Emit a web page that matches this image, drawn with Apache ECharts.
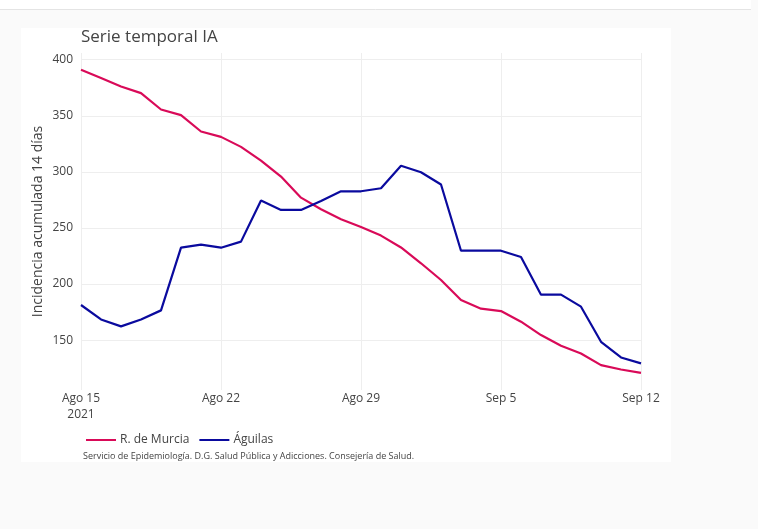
<!DOCTYPE html>
<html>
<head>
<meta charset="utf-8">
<script src="https://cdn.jsdelivr.net/npm/echarts@6/dist/echarts.min.js"></script>
<style>
html,body{margin:0;padding:0;background:#fafafa;}
#chart{width:758px;height:529px;}
</style>
</head>
<body>
<div id="chart"></div>
<script>
const dates = ['2021-08-15','2021-08-16','2021-08-17','2021-08-18','2021-08-19','2021-08-20','2021-08-21',
  '2021-08-22','2021-08-23','2021-08-24','2021-08-25','2021-08-26','2021-08-27','2021-08-28',
  '2021-08-29','2021-08-30','2021-08-31','2021-09-01','2021-09-02','2021-09-03','2021-09-04',
  '2021-09-05','2021-09-06','2021-09-07','2021-09-08','2021-09-09','2021-09-10','2021-09-11','2021-09-12'];
const murcia = [391.1,383.7,376.2,370.2,355.6,350.6,336.0,331.2,322.3,310.1,295.8,277.0,266.7,257.7,
  250.9,243.2,232.6,218.5,203.6,185.7,178.0,175.9,166.4,154.5,145.0,138.1,127.7,123.8,120.8];
const aguilas = [181.3,168.4,162.2,168.4,176.5,232.4,235.1,232.4,237.8,274.4,266.1,266.1,274.1,282.7,
  282.7,285.4,305.4,299.7,288.7,229.7,229.7,229.7,224.1,190.5,190.5,179.8,148.5,134.5,129.2];
const yTicks = [150,200,250,300,350,400];
const monthNames = {'08':'Ago','09':'Sep'};
const seriesNames = ['R. de Murcia','Águilas'];
const titleText = 'Serie temporal IA';
const yName = 'Incidencia acumulada 14 días';
const sourceText = 'Servicio de Epidemiología. D.G. Salud Pública y Adicciones. Consejería de Salud.';

const FONT = '"Open Sans", "Noto Sans", sans-serif';
const chart = echarts.init(document.getElementById('chart'), null, {renderer:'canvas'});
chart.setOption({
  backgroundColor: '#fafafa',
  animation: false,
  textStyle: {fontFamily: FONT},
  graphic: [
    {type:'rect', z:-10, shape:{x:0,y:0,width:751,height:9}, style:{fill:'#ffffff'}},
    {type:'line', z:-10, shape:{x1:0,y1:9.5,x2:751,y2:9.5}, style:{stroke:'#e4e4e4',lineWidth:1}},
    {type:'rect', z:-10, shape:{x:21,y:28,width:650,height:434}, style:{fill:'#ffffff'}},
    {type:'text', left:83, top:452, style:{text:sourceText, fontSize:9, fill:'#444', fontFamily:FONT}}
  ],
  title: {
    text: titleText, left: 76, top: 24,
    textStyle: {fontSize: 17, fontWeight: 'normal', color: '#444', fontFamily: FONT}
  },
  legend: {
    left: 81, top: 429, itemGap: 10, itemWidth: 30, itemHeight: 2,
    icon: 'rect',
    data: seriesNames,
    textStyle: {fontSize: 12, color: '#444', fontFamily: FONT, padding:[0,0,0,-1]}
  },
  grid: {left: 81, right: 117, top: 53, bottom: 139, containLabel: false},
  xAxis: {
    type: 'category', data: dates, boundaryGap: false,
    axisLine: {show: false}, axisTick: {show: false},
    axisLabel: {
      interval: 6, margin: 1, color: '#444', fontSize: 12, fontFamily: FONT, lineHeight: 16,
      formatter: function (v, i) {
        const p = v.split('-');
        const s = monthNames[p[1]] + ' ' + parseInt(p[2], 10);
        return i === 0 ? s + '\n' + p[0] : s;
      }
    },
    splitLine: {show: true, interval: 6, lineStyle: {color: '#eeeeee', width: 1}}
  },
  yAxis: {
    type: 'value', min: 105.5, max: 406,
    name: yName, nameLocation: 'middle', nameGap: 36, nameRotate: 90, nameMoveOverlap: false,
    nameTextStyle: {fontSize: 14, color: '#444', fontFamily: FONT},
    axisLine: {show: false},
    axisTick: {show: false, customValues: yTicks},
    axisLabel: {customValues: yTicks, margin: 8, color: '#444', fontSize: 12, fontFamily: FONT},
    splitLine: {show: true, lineStyle: {color: '#eeeeee', width: 1}}
  },
  series: [
    {name: seriesNames[0], type: 'line', data: murcia, showSymbol: false, symbol: 'none',
     lineStyle: {color: '#d90a58', width: 2.2}, itemStyle: {color: '#d90a58'}},
    {name: seriesNames[1], type: 'line', data: aguilas, showSymbol: false, symbol: 'none',
     lineStyle: {color: '#0a0a9e', width: 2.2}, itemStyle: {color: '#0a0a9e'}}
  ]
});
</script>
</body>
</html>
